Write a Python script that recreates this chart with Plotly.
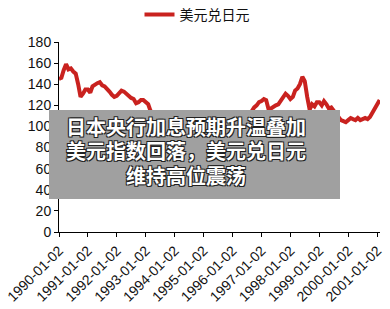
import plotly.graph_objects as go
import pandas as pd

# ---- data (monthly readings of USD/JPY) ----
start_month = "1990-01-01"
usd_jpy = [
    145, 146, 153, 159, 154, 155, 152, 150, 140, 128, 131, 135,   # 1990
    135, 132, 138, 140, 141, 142, 139, 138, 136, 133, 130, 128,   # 1991
    129, 131, 134, 133, 131, 128, 127, 126, 122, 123, 125, 125,   # 1992
    123, 121, 115, 111, 110, 107, 106, 103, 105, 107, 108, 113,   # 1993
    110, 106, 105, 103, 104, 102, 99, 100, 99, 98, 98, 100,       # 1994
    99, 98, 90, 83, 85, 85, 88, 95, 100, 100, 102, 103,           # 1995
    106, 105, 106, 107, 107, 109, 110, 111, 115, 118, 120, 123,   # 1996
    124, 126, 125, 116, 117, 119, 120, 121, 124, 128, 131, 129,   # 1997
    126, 128, 134, 136, 140, 147, 143, 128, 116, 121, 119, 123,   # 1998
    123, 120, 124, 121, 117, 118, 115, 111, 108, 106, 105, 104,   # 1999
    106, 108, 107, 106, 108, 106, 107, 108, 107, 109, 113, 117,   # 2000
    121, 125,                                                     # 2001
]
dates = pd.date_range(start_month, periods=len(usd_jpy), freq="MS")

series_name = "美元兑日元"
x_ticks = ["1990-01-02", "1991-01-02", "1992-01-02", "1993-01-02",
           "1994-01-02", "1995-01-02", "1996-01-02", "1997-01-02",
           "1998-01-02", "1999-01-02", "2000-01-02", "2001-01-02"]
y_ticks = [0, 20, 40, 60, 80, 100, 120, 140, 160, 180]
overlay_lines = ["日本央行加息预期升温叠加", "美元指数回落，美元兑日元", "维持高位震荡"]

fig = go.Figure()
fig.add_trace(go.Scatter(
    x=dates, y=usd_jpy, mode="lines", name=series_name,
    line=dict(color="#C9221F", width=4),
))

W, H = 390, 309
ml, mr, mt, mb = 59, 10, 42, 77
pw, ph = W - ml - mr, H - mt - mb

def px_x(p):
    return (p - ml) / pw

def px_y(p):
    return (H - mb - p) / ph

outline = "-1px -1px 0 #222, 1px -1px 0 #222, -1px 1px 0 #222, 1px 1px 0 #222"
line_centers = [126.5, 150.5, 175]
annotations = [dict(
    xref="paper", yref="paper", x=px_x(186), y=px_y(cy),
    xanchor="center", yanchor="middle", showarrow=False, align="center",
    text="<b>" + t + "</b>",
    font=dict(family="Noto Sans CJK SC", size=20, color="white", shadow=outline),
) for t, cy in zip(overlay_lines, line_centers)]

fig.update_layout(
    width=W, height=H,
    margin=dict(l=ml, r=mr, t=mt, b=mb, pad=0, autoexpand=False),
    paper_bgcolor="white", plot_bgcolor="white",
    showlegend=True,
    legend=dict(orientation="h", xref="container", yref="container",
                x=197 / W, xanchor="center", y=1 - 15 / H, yanchor="middle",
                font=dict(family="Noto Sans CJK SC", size=14, color="#111"),
                bgcolor="rgba(0,0,0,0)"),
    xaxis=dict(
        type="date", range=["1990-01-02", "2001-02-05"],
        tickvals=x_ticks, ticktext=x_ticks, tickangle=-45,
        showgrid=False, zeroline=False, showline=True, linecolor="black", linewidth=1,
        ticks="outside", ticklen=4, tickcolor="black",
        tickfont=dict(family="Liberation Sans, Arial", size=14, color="#111"),
    ),
    yaxis=dict(
        range=[0, 180], tickvals=y_ticks,
        showgrid=False, zeroline=False, showline=True, linecolor="black", linewidth=1,
        ticks="outside", ticklen=4, tickcolor="black",
        tickfont=dict(family="Liberation Sans, Arial", size=14, color="#111"),
    ),
    shapes=[dict(type="rect", xref="paper", yref="paper",
                 x0=px_x(49), x1=px_x(340), y0=px_y(199), y1=px_y(110),
                 fillcolor="#A0A0A0", line=dict(width=0), layer="above")],
    annotations=annotations,
)

fig.write_html("out.html")
